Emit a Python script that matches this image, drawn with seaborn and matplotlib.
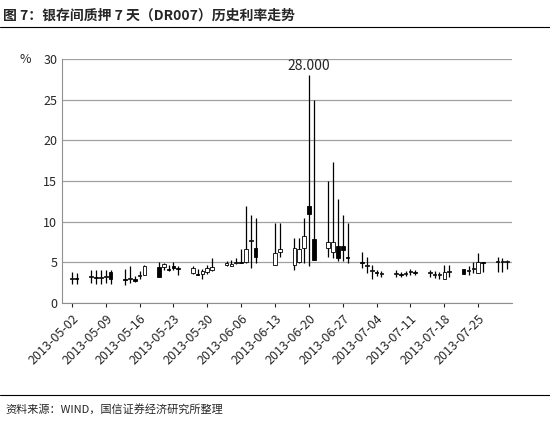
import pandas as pd
import numpy as np
import seaborn as sns
import matplotlib.pyplot as plt
import matplotlib.dates as mdates

sns.set_style("white")
plt.rcParams['font.family'] = ['Noto Sans CJK SC', 'DejaVu Sans']

dates = ["2013-05-02", "2013-05-03",
         "2013-05-06", "2013-05-07", "2013-05-08", "2013-05-09", "2013-05-10",
         "2013-05-13", "2013-05-14", "2013-05-15", "2013-05-16", "2013-05-17",
         "2013-05-20", "2013-05-21", "2013-05-22", "2013-05-23", "2013-05-24",
         "2013-05-27", "2013-05-28", "2013-05-29", "2013-05-30", "2013-05-31",
         "2013-06-03", "2013-06-04", "2013-06-05", "2013-06-06", "2013-06-07", "2013-06-08", "2013-06-09",
         "2013-06-13", "2013-06-14",
         "2013-06-17", "2013-06-18", "2013-06-19", "2013-06-20", "2013-06-21",
         "2013-06-24", "2013-06-25", "2013-06-26", "2013-06-27", "2013-06-28",
         "2013-07-01", "2013-07-02", "2013-07-03", "2013-07-04", "2013-07-05",
         "2013-07-08", "2013-07-09", "2013-07-10", "2013-07-11", "2013-07-12",
         "2013-07-15", "2013-07-16", "2013-07-17", "2013-07-18", "2013-07-19",
         "2013-07-22", "2013-07-23", "2013-07-24", "2013-07-25", "2013-07-26",
         "2013-07-29", "2013-07-30", "2013-07-31"]
opens = [3.0, 3.0,
         3.2, 3.2, 3.1, 3.2, 3.8,
         2.9, 2.9, 2.9, 3.3, 3.5,
         4.4, 4.4, 4.2, 4.5, 4.3,
         3.7, 3.6, 3.6, 3.8, 4.0,
         4.7, 4.6, 4.9, 5.1, 5.1, 7.6, 6.8,
         4.7, 6.3,
         4.7, 5.0, 6.8, 11.9, 7.9,
         6.8, 6.3, 7.0, 7.0, 5.7,
         5.0, 4.5, 3.9, 3.8, 3.6,
         3.6, 3.5, 3.6, 3.8, 3.8,
         3.7, 3.5, 3.4, 3.0, 3.8,
         4.2, 3.9, 4.2, 3.7, 5.0,
         5.0, 5.0, 5.0]
closes = [3.0, 2.9,
          3.2, 3.1, 3.2, 3.2, 3.0,
          2.8, 3.0, 2.7, 3.4, 4.5,
          3.2, 4.8, 4.0, 4.3, 4.2,
          4.3, 3.5, 3.9, 4.3, 4.4,
          4.9, 4.8, 5.0, 4.9, 6.6, 7.6, 5.7,
          6.2, 6.6,
          6.8, 6.6, 8.3, 11.0, 5.3,
          7.5, 7.5, 5.5, 6.5, 5.5,
          4.9, 4.5, 3.9, 3.7, 3.6,
          3.6, 3.4, 3.7, 3.9, 3.7,
          3.7, 3.5, 3.4, 3.8, 3.8,
          3.6, 3.9, 4.2, 5.1, 4.9,
          5.0, 5.0, 5.0]
highs = [3.8, 3.7,
         4.0, 4.0, 4.0, 4.0, 4.1,
         4.2, 4.5, 3.3, 3.9, 4.7,
         5.0, 4.9, 4.7, 5.1, 4.5,
         4.6, 4.2, 4.2, 4.7, 5.5,
         5.2, 5.3, 5.5, 6.7, 11.9, 10.8, 10.4,
         9.8, 9.8,
         8.0, 8.0, 10.5, 28.0, 25.0,
         15.0, 17.4, 12.8, 10.8, 9.8,
         6.3, 5.7, 4.7, 4.1, 3.9,
         4.0, 3.8, 3.9, 4.2, 4.1,
         4.0, 3.9, 3.8, 4.7, 4.7,
         4.2, 4.5, 5.0, 6.1, 5.1,
         5.6, 5.5, 5.3]
lows = [2.3, 2.3,
        2.5, 2.3, 2.3, 2.5, 2.3,
        2.2, 2.5, 2.6, 3.0, 3.5,
        3.2, 4.1, 3.9, 4.0, 3.5,
        3.6, 3.4, 3.0, 3.6, 3.9,
        4.5, 4.5, 4.8, 4.9, 4.9, 4.3, 4.9,
        4.7, 5.6,
        4.0, 4.9, 4.9, 4.5, 5.3,
        5.6, 5.5, 5.2, 5.2, 4.9,
        4.3, 3.7, 3.0, 3.3, 3.2,
        3.2, 3.2, 3.3, 3.4, 3.4,
        3.2, 3.1, 3.0, 3.0, 3.2,
        3.6, 3.4, 3.7, 3.7, 3.8,
        3.8, 3.8, 4.2]

df = pd.DataFrame({"date": pd.to_datetime(dates), "open": opens,
                   "high": highs, "low": lows, "close": closes})

fig = plt.figure(figsize=(5.5, 4.22), dpi=100)
ax = fig.add_axes([0.113, 0.282, 0.818, 0.578])

x = mdates.date2num(df["date"])
up = df["close"] >= df["open"]
ax.vlines(x, df["low"], df["high"], color="black", lw=0.9, zorder=2)
body_lo = np.minimum(df["open"], df["close"])
body_h = np.maximum(np.abs(df["close"] - df["open"]), 0.12)
ax.bar(x[up], body_h[up], bottom=body_lo[up], width=0.75,
       color="white", edgecolor="black", lw=0.6, zorder=3)
ax.bar(x[~up], body_h[~up], bottom=body_lo[~up], width=0.75,
       color="black", edgecolor="black", lw=0.6, zorder=3)

imax = df["high"].idxmax()
ax.text(x[imax], df["high"][imax] + 0.3, f"{df['high'][imax]:.3f}",
        ha="center", va="bottom", fontsize=10)

ax.set_ylim(0, 30)
ax.set_yticks(range(0, 31, 5))
ax.yaxis.grid(True, color="#a0a0a0", lw=0.9)
ax.set_xlim(mdates.datestr2num("2013-04-30"), mdates.datestr2num("2013-08-01"))
ticks = pd.date_range("2013-05-02", "2013-07-25", freq="7D")
ax.set_xticks(mdates.date2num(ticks))
ax.set_xticklabels([t.strftime("%Y-%m-%d") for t in ticks], rotation=45,
                   ha="right", rotation_mode="anchor", fontsize=9)
ax.tick_params(axis="y", labelsize=9, length=0)
ax.tick_params(axis="x", length=3, direction="out", bottom=True)
for s in ["top", "right"]:
    ax.spines[s].set_visible(False)
ax.spines["left"].set_color("#909090")
ax.spines["bottom"].set_color("#909090")
ax.text(-0.07, 1.0, "%", transform=ax.transAxes, ha="right", va="center", fontsize=9)

fig.text(0.005, 0.962, "图 7：银存间质押 7 天（DR007）历史利率走势", fontsize=10,
         fontweight="bold", va="center")
fig.add_artist(plt.Line2D([0, 1], [0.935, 0.935], color="black", lw=0.8))
fig.add_artist(plt.Line2D([0, 1], [0.063, 0.063], color="black", lw=0.8))
fig.text(0.01, 0.03, "资料来源：WIND，国信证券经济研究所整理", fontsize=8, va="center")

fig.savefig("out.png", dpi=100)
